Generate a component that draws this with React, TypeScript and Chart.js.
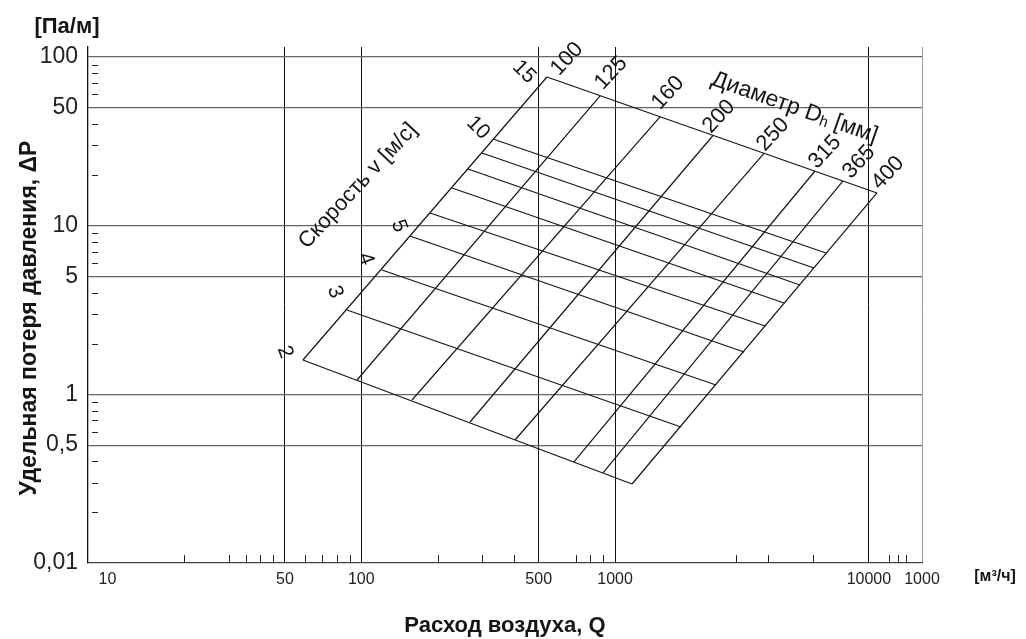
import { useEffect, useRef } from 'react';
import { Chart, registerables } from 'chart.js';

Chart.register(...registerables);

// ---- axes ----
const X_MIN = 8.38;
const X_MAX = 16190;
const X_TICKS = [10, 50, 100, 500, 1000, 10000];
const X_TICK_LABELS = ['10', '50', '100', '500', '1000', '10000'];
const X_END_LABEL = '1000';
const X_MINOR = [20, 30, 35, 40, 45, 60, 70, 80, 90, 200, 300, 400, 700, 800, 900, 3000, 4000, 6000, 12000, 13000, 14000];

const Y_MIN = 0.1;
const Y_MAX = 114.6;
const Y_TICKS = [0.1, 0.5, 1, 5, 10, 50, 100];
const Y_TICK_LABELS = ['0,01', '0,5', '1', '5', '10', '50', '100'];
const Y_MINOR = [90, 80, 70, 60, 40, 30, 20, 9, 8, 7, 6, 4, 3, 2, 0.9, 0.8, 0.7, 0.6, 0.4, 0.3, 0.2];

// ---- velocity lines (from D=100 edge to D=400 edge) ----
const VELOCITIES = [2, 3, 4, 5, 6, 7, 8, 9, 10, 15];
const VEL_LABELS = ['2', '3', '4', '5', '', '', '', '', '10', '15'];
const VEL_Q_START = [58.9, 87.8, 120.6, 155.5, 186.6, 227.8, 263.3, 299.0, 330.3, 539.1];
const VEL_R_START = [1.598, 3.162, 5.46, 8.686, 11.89, 16.72, 21.68, 26.97, 32.65, 76.1];
const VEL_Q_END = [1166, 1818, 2498, 3220, 3896, 4630, 5352, 6078, 6776, 10762];
const VEL_R_END = [0.294, 0.6405, 1.136, 1.782, 2.542, 3.479, 4.449, 5.61, 6.887, 15.62];

// ---- diameter lines (from v=2 edge to v=15 edge) ----
const DIAMETERS = [100, 125, 160, 200, 250, 315, 365, 400];
const DIA_Q_START = [58.9, 96.2, 158.4, 268.2, 403.3, 688.8, 896.2, 1166];
const DIA_R_START = [1.598, 1.216, 0.9257, 0.6855, 0.5362, 0.3971, 0.3418, 0.294];
const DIA_Q_END = [539.1, 872.9, 1503, 2431, 3861, 6133, 7907, 10762];
const DIA_R_END = [76.1, 58.72, 44.1, 34.24, 26.79, 21.09, 18.4, 15.62];

// annotation anchors (data coords)
const VEL_TITLE_AT = [97, 17.2];
const DIA_TITLE_AT = [5117, 51.2];

// label nudges in pixels (style)
const VEL_NUDGE: [number, number][] = [[-18, -8], [-12, -18], [-16, -11], [-11, -10], [0, 0], [0, 0], [0, 0], [0, 0], [-15, -11], [-23, -5]];
const DIA_NUDGE: [number, number][] = [[20, -18], [11, -23], [8, -24], [6, -19], [9, -19], [10, -19], [16, -19], [11, -20]];

const FONT = '"Liberation Sans", Arial, sans-serif';
const INK = '#151515';

function rotText(ctx: CanvasRenderingContext2D, text: string, x: number, y: number, deg: number, font: string) {
  ctx.save();
  ctx.translate(x, y);
  ctx.rotate((deg * Math.PI) / 180);
  ctx.font = font;
  ctx.textAlign = 'center';
  ctx.textBaseline = 'middle';
  ctx.fillStyle = INK;
  ctx.fillText(text, 0, 0);
  ctx.restore();
}

const decorPlugin = {
  id: 'decor',
  afterDatasetsDraw(chart: any) {
    const ctx: CanvasRenderingContext2D = chart.ctx;
    const xs = chart.scales.x;
    const ys = chart.scales.y;
    const ca = chart.chartArea;

    // minor ticks (inside)
    ctx.save();
    ctx.strokeStyle = '#222';
    ctx.lineWidth = 1;
    ctx.beginPath();
    X_MINOR.forEach((v) => {
      const px = Math.round(xs.getPixelForValue(v)) + 0.5;
      ctx.moveTo(px, ca.bottom);
      ctx.lineTo(px, ca.bottom - 8);
    });
    Y_MINOR.forEach((v) => {
      const py = Math.round(ys.getPixelForValue(v)) + 0.5;
      ctx.moveTo(ca.left + 4, py);
      ctx.lineTo(ca.left + 10, py);
    });
    ctx.stroke();
    ctx.restore();

    // diameter labels at the top edge
    DIAMETERS.forEach((d, i) => {
      const px = xs.getPixelForValue(DIA_Q_END[i]);
      const py = ys.getPixelForValue(DIA_R_END[i]);
      rotText(ctx, String(d), px + DIA_NUDGE[i][0], py + DIA_NUDGE[i][1], -47, `22px ${FONT}`);
    });
    // velocity labels at the left edge
    VEL_LABELS.forEach((t, i) => {
      if (!t) return;
      const px = xs.getPixelForValue(VEL_Q_START[i]);
      const py = ys.getPixelForValue(VEL_R_START[i]);
      rotText(ctx, t, px + VEL_NUDGE[i][0], py + VEL_NUDGE[i][1], t.length > 1 ? 45 : 70, `21px ${FONT}`);
    });

    // velocity title
    rotText(
      ctx,
      'Скорость v [м/с]',
      xs.getPixelForValue(VEL_TITLE_AT[0]),
      ys.getPixelForValue(VEL_TITLE_AT[1]),
      -47,
      `22px ${FONT}`
    );

    // diameter title with subscript h
    {
      const cx = xs.getPixelForValue(DIA_TITLE_AT[0]);
      const cy = ys.getPixelForValue(DIA_TITLE_AT[1]);
      ctx.save();
      ctx.translate(cx, cy);
      ctx.rotate((19.4 * Math.PI) / 180);
      ctx.fillStyle = INK;
      ctx.textBaseline = 'alphabetic';
      ctx.textAlign = 'left';
      const f1 = `23px ${FONT}`;
      const f2 = `15px ${FONT}`;
      const a = 'Диаметр D';
      const b = 'h';
      const c = ' [мм]';
      ctx.font = f1;
      const wa = ctx.measureText(a).width;
      const wc = ctx.measureText(c).width;
      ctx.font = f2;
      const wb = ctx.measureText(b).width;
      const start = -(wa + wb + wc) / 2;
      ctx.font = f1;
      ctx.fillText(a, start, 8);
      ctx.font = f2;
      ctx.fillText(b, start + wa, 10);
      ctx.font = f1;
      ctx.fillText(c, start + wa + wb, 8);
      ctx.restore();
    }

    // axis titles / units
    ctx.save();
    ctx.fillStyle = INK;
    ctx.textAlign = 'center';
    ctx.textBaseline = 'middle';
    ctx.font = `bold 22px ${FONT}`;
    ctx.fillText('[Па/м]', 67, 27);
    ctx.font = `bold 22px ${FONT}`;
    ctx.fillText('Расход воздуха, Q', (ca.left + ca.right) / 2, 626);
    ctx.font = `bold 16px ${FONT}`;
    ctx.fillText('[м³/ч]', 995, 577);
    ctx.translate(30, 318);
    ctx.rotate(-Math.PI / 2);
    ctx.font = `bold 23px ${FONT}`;
    ctx.fillText('Удельная потеря давления, ΔP', 0, 0);
    ctx.restore();
  },
};

export default function App() {
  const ref = useRef<HTMLCanvasElement>(null);

  useEffect(() => {
    document.body.style.margin = '0';
    const datasets: any[] = [];
    VELOCITIES.forEach((v, i) => {
      datasets.push({
        label: `v=${v}`,
        data: [
          { x: VEL_Q_START[i], y: VEL_R_START[i] },
          { x: VEL_Q_END[i], y: VEL_R_END[i] },
        ],
        showLine: true,
        pointRadius: 0,
        borderColor: INK,
        borderWidth: 1.2,
      });
    });
    DIAMETERS.forEach((d, i) => {
      datasets.push({
        label: `D=${d}`,
        data: [
          { x: DIA_Q_START[i], y: DIA_R_START[i] },
          { x: DIA_Q_END[i], y: DIA_R_END[i] },
        ],
        showLine: true,
        pointRadius: 0,
        borderColor: INK,
        borderWidth: 1.2,
      });
    });

    const chart = new Chart(ref.current as HTMLCanvasElement, {
      type: 'scatter',
      data: { datasets },
      plugins: [decorPlugin],
      options: {
        animation: false,
        responsive: false,
        events: [],
        layout: { padding: { top: 47, right: 104, bottom: 0, left: 0 } },
        plugins: { legend: { display: false }, tooltip: { enabled: false } },
        scales: {
          x: {
            type: 'logarithmic',
            min: X_MIN,
            max: X_MAX,
            afterBuildTicks: (s: any) => {
              s.ticks = [...X_TICKS, X_MAX].map((v) => ({ value: v }));
            },
            afterFit: (s: any) => {
              s.height = 76;
            },
            ticks: {
              autoSkip: false,
              maxRotation: 0,
              padding: 7,
              color: '#222',
              font: { family: FONT, size: 16 },
              callback: (_v: any, i: number) => (i < X_TICK_LABELS.length ? X_TICK_LABELS[i] : X_END_LABEL),
            },
            grid: {
              drawTicks: false,
              lineWidth: 1,
              color: (c: any) =>
                c.tick && c.tick.value === X_MAX ? '#9a9a9a' : c.tick && c.tick.value === 10 ? 'rgba(0,0,0,0)' : '#111',
            },
            border: { color: '#444', width: 1.3 },
          },
          y: {
            type: 'logarithmic',
            min: Y_MIN,
            max: Y_MAX,
            afterBuildTicks: (s: any) => {
              s.ticks = Y_TICKS.map((v) => ({ value: v }));
            },
            afterFit: (s: any) => {
              s.width = 88;
            },
            ticks: {
              autoSkip: false,
              padding: 10,
              color: '#222',
              font: { family: FONT, size: 23 },
              callback: (_v: any, i: number) => Y_TICK_LABELS[i],
            },
            grid: {
              drawTicks: false,
              lineWidth: 1.2,
              color: (c: any) => (c.tick && c.tick.value === Y_MIN ? 'rgba(0,0,0,0)' : '#666'),
            },
            border: { color: '#111', width: 1.3 },
          },
        },
      },
    });
    return () => chart.destroy();
  }, []);

  return (
    <div style={{ width: 1026, height: 639, background: '#fff' }}>
      <canvas ref={ref} width={1026} height={639} style={{ display: 'block' }} />
    </div>
  );
}
